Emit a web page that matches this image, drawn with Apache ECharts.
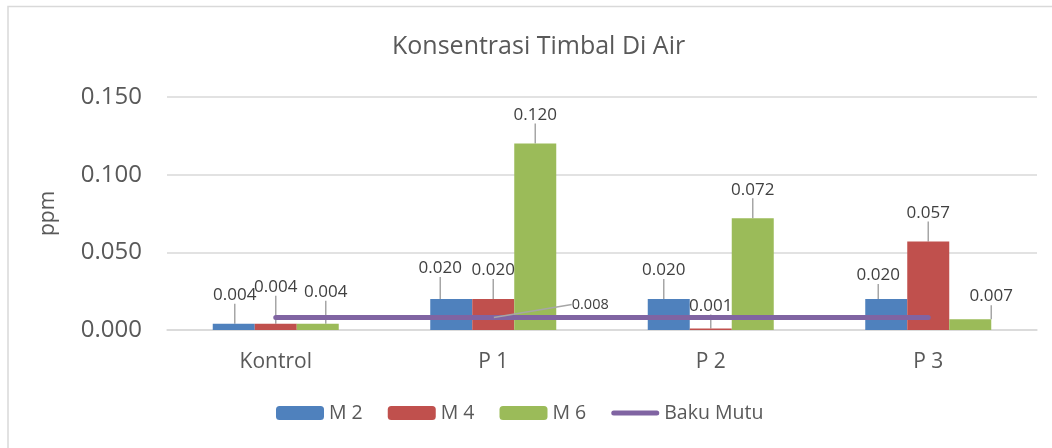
<!DOCTYPE html>
<html>
<head>
<meta charset="utf-8">
<script src="https://cdn.jsdelivr.net/npm/echarts@6/dist/echarts.min.js"></script>
<style>html,body{margin:0;padding:0;background:#fff;}#c{width:1052px;height:448px;}</style>
</head>
<body>
<div id="c"></div>
<script>
const categories = ['Kontrol', 'P 1', 'P 2', 'P 3'];
const m2 = [0.004, 0.020, 0.020, 0.020];
const m4 = [0.004, 0.020, 0.001, 0.057];
const m6 = [0.004, 0.120, 0.072, 0.007];
const bakuMutu = [0.008, 0.008, 0.008, 0.008];
const yTicks = [0, 0.05, 0.1, 0.15];

// label offsets (layout only)
const offsets = [
  [[1, -15], [-11, -17], [-5, -15], [-8, -10]],
  [[0, -23], [0, -15], [0, -9], [0, -15]],
  [[8, -18], [0, -15], [0, -15], [21, -9]]
];

const FONT = 'Open Sans';
const txt = '#595959';
const lineIcon = 'path://M0,0L0.01,0L0,0.01Z M48,14L47.99,14L48,13.99Z M2.5,4.5L45.5,4.5Q48,4.5 48,7Q48,9.5 45.5,9.5L2.5,9.5Q0,9.5 0,7Q0,4.5 2.5,4.5Z';

const chart = echarts.init(document.getElementById('c'));
function barSeries(name, data, color, si) {
  return {
    name: name, type: 'bar', data: data, barWidth: 42, barGap: '0%',
    itemStyle: { color: color },
    label: { show: true, position: 'top', distance: 5, fontSize: 17, color: '#404040', fontFamily: FONT,
      formatter: p => p.value.toFixed(3) },
    labelLine: { show: true, lineStyle: { color: '#a6a6a6', width: 1.5 } },
    labelLayout: p => ({ dx: offsets[si][p.dataIndex][0], dy: offsets[si][p.dataIndex][1] })
  };
}
chart.setOption({
  animation: false,
  textStyle: { fontFamily: FONT },
  title: { text: 'Konsentrasi Timbal Di Air', left: 387, top: 29,
    textStyle: { fontSize: 25, fontWeight: 'normal', color: txt, fontFamily: FONT } },
  grid: { left: 167, right: 15, top: 97, bottom: 118 },
  legend: {
    left: 271, top: 398, itemWidth: 48, itemHeight: 14, itemGap: 25,
    textStyle: { fontSize: 19.5, color: txt, fontFamily: FONT },
    data: ['M 2', 'M 4', 'M 6', { name: 'Baku Mutu', icon: lineIcon }]
  },
  xAxis: {
    type: 'category', data: categories,
    axisLine: { lineStyle: { color: '#d9d9d9', width: 1.5 } },
    axisTick: { show: false },
    axisLabel: { fontSize: 21, color: txt, margin: 22, fontFamily: FONT }
  },
  yAxis: {
    type: 'value', min: yTicks[0], max: yTicks[yTicks.length - 1], interval: 0.05,
    name: 'ppm', nameLocation: 'middle', nameGap: 108, nameRotate: 90,
    nameTextStyle: { fontSize: 21, color: txt, fontFamily: FONT },
    axisLine: { show: false }, axisTick: { show: false },
    axisLabel: { fontSize: 24, color: txt, margin: 25, fontFamily: FONT, formatter: v => v.toFixed(3) },
    splitLine: { lineStyle: { color: '#d9d9d9', width: 1.5 } }
  },
  series: [
    barSeries('M 2', m2, '#4F81BD', 0),
    barSeries('M 4', m4, '#C0504D', 1),
    barSeries('M 6', m6, '#9BBB59', 2),
    {
      name: 'Baku Mutu', type: 'line', symbol: 'none',
      data: bakuMutu.map((v, i) => i === 1 ? { value: v, symbol: 'circle', symbolSize: 1,
        label: { show: true } } : { value: v }),
      lineStyle: { color: '#8064A2', width: 5, cap: 'round' },
      itemStyle: { color: '#8064A2' },
      label: { show: false, position: 'top', distance: 5, fontSize: 14.5, color: '#404040', fontFamily: FONT,
        formatter: p => p.value.toFixed(3) },
      labelLine: { show: true, lineStyle: { color: '#a6a6a6', width: 1.5 } },
      labelLayout: { dx: 97, dy: 0 },
      z: 5
    }
  ],
  graphic: [
    { type: 'polyline', shape: { points: [[8, 448], [8, 6.5], [1052, 6.5]] }, style: { stroke: '#d9d9d9', lineWidth: 1.5, fill: null } }
  ]
});
</script>
</body>
</html>
